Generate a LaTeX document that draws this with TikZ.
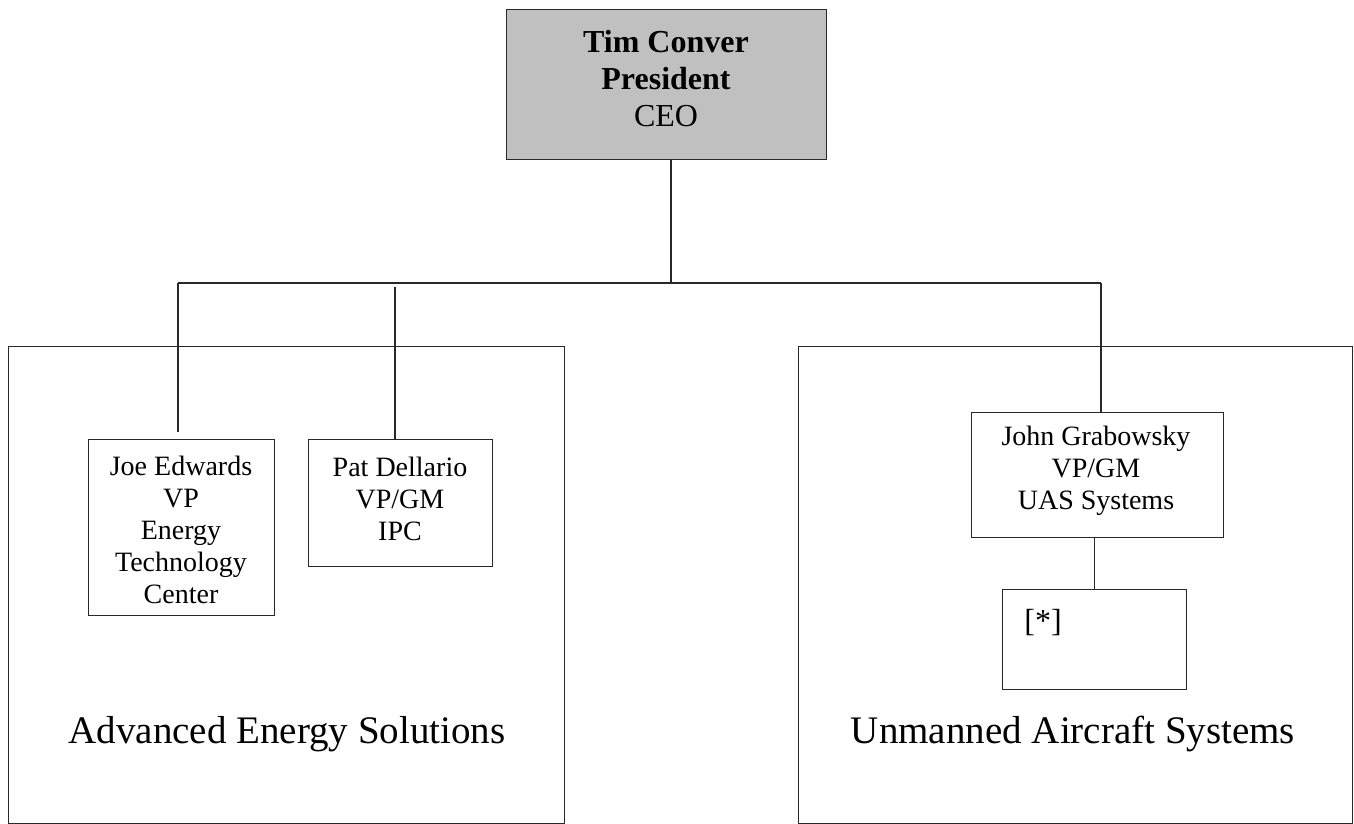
\documentclass[tikz,border=0pt]{standalone}
\usepackage{fontspec}
\setmainfont{Liberation Serif}
\usetikzlibrary{calc}
\definecolor{ceogray}{RGB}{192,192,192}
\definecolor{linecol}{RGB}{40,40,40}
\tikzset{
  box/.style={draw=linecol, line width=1.3pt, rectangle, inner sep=0pt, anchor=north west},
  conn/.style={draw=linecol, line width=1.3pt},
  smalltxt/.style={align=center, inner sep=0pt, font=\fontsize{28}{32}\selectfont},
  bigtxt/.style={inner sep=0pt, anchor=base, font=\fontsize{39}{44}\selectfont},
}
\begin{document}
\begin{tikzpicture}[x=1pt, y=-1pt]
\useasboundingbox (0,0) rectangle (1354,824);
\begin{scope}
\clip (0,0) rectangle (1354,824);
% division boxes
\node[box, minimum width=556pt, minimum height=477pt] (aes) at (8,346) {};
\node[box, minimum width=554pt, minimum height=477pt] (uas) at (798,346) {};
\end{scope}
% CEO
\node[box, fill=ceogray, minimum width=320pt, minimum height=150pt] (ceo) at (506,9) {};
\node[align=center, inner sep=0pt, font=\fontsize{32}{37}\selectfont] (ceotxt) at (666,79)
  {\textbf{Tim Conver}\\\textbf{President}\\CEO};
% person boxes
\node[box, minimum width=186pt, minimum height=176pt] (joe) at (88,439) {};
\node[smalltxt] (joetxt) at (181,530) {Joe Edwards\\VP\\Energy\\Technology\\Center};
\node[box, minimum width=184pt, minimum height=127pt] (pat) at (308,439) {};
\node[smalltxt] (pattxt) at (400,499) {Pat Dellario\\VP/GM\\IPC};
\node[box, minimum width=252pt, minimum height=125pt] (john) at (971,412) {};
\node[smalltxt] (johntxt) at (1096,471) {John Grabowsky\\VP/GM\\UAS Systems};
\node[box, minimum width=184pt, minimum height=100pt] (star) at (1002,589) {};
\node[inner sep=0pt, font=\fontsize{32}{37}\selectfont] (startxt) at (1043,623) {[*]};
% division labels
\node[bigtxt] (aeslbl) at (287,743) {Advanced Energy Solutions};
\node[bigtxt] (uaslbl) at (1073,743) {Unmanned Aircraft Systems};
% connectors
\coordinate (jL) at (178,283);
\coordinate (jR) at (1101,283);
\coordinate (jC) at (671,283);
\coordinate (joeEnd) at (178,432);
\coordinate (patStart) at (395,287);
\draw[conn] (jL) -- (jR);
\draw[conn] (ceo.south -| jC) -- (jC);
\draw[conn] (jL) -- (joeEnd);
\draw[conn] (patStart) -- (patStart |- pat.north);
\draw[conn] (jR) -- (jR |- john.north);
\draw[conn] (john.south -| star.north) -- (star.north);
\end{tikzpicture}
\end{document}
